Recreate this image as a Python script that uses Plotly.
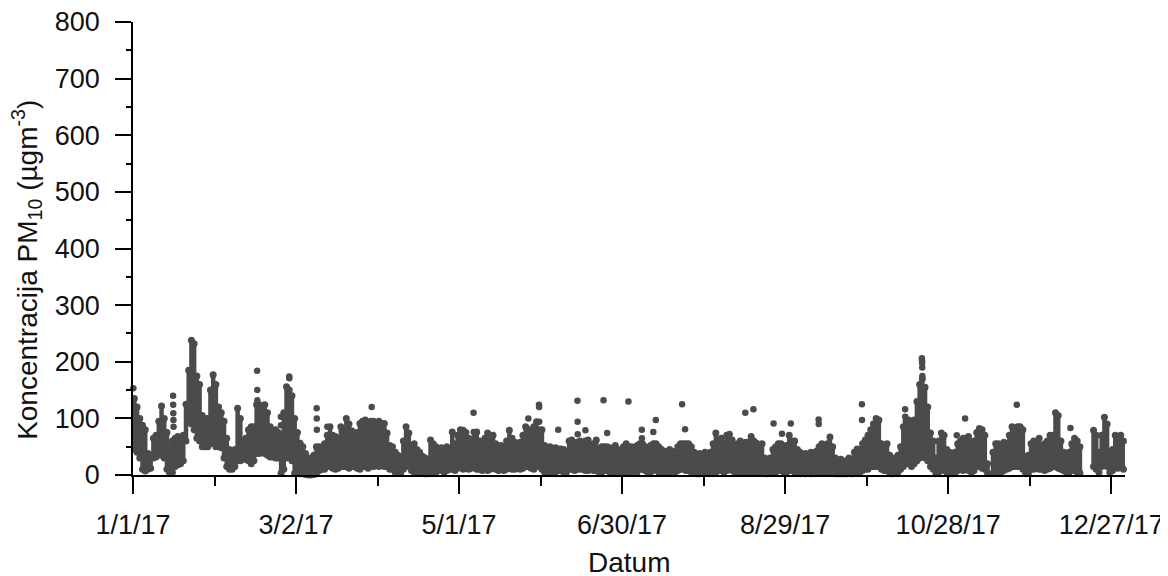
import pandas as pd
import plotly.graph_objects as go

# daily (low, high) PM10 band; None = no data
jan = [(45, 135), (40, 120), (30, 100), (10, 88), (7, 80), (10, 38), (12, 35), (30, 65), (32, 70), (40, 95),
       (35, 122), (30, 100), (10, 75), (3, 50), (5, 60), (15, 65), (18, 68), (20, 60), (25, 70), (60, 125),
       (95, 185), (90, 238), (80, 232), (65, 175), (60, 160), (50, 105), (50, 100), (50, 100), (55, 150),
       (60, 177), (50, 160)]
feb = [(50, 120), (48, 110), (30, 95), (15, 65), (10, 45), (10, 40), (15, 45), (25, 118), (25, 100), (28, 60),
       (28, 65), (25, 80), (20, 85), (25, 85), (38, 124), (38, 124), (40, 120), (38, 124), (35, 110), (32, 85),
       (32, 75), (30, 80), (30, 75), (3, 70), (10, 110), (30, 156), (35, 150), (25, 140)]
mar = [(3, 100), (3, 75), (2, 56), (2, 50), (1, 38), (0, 30), (0, 27), (1, 35), (2, 50), (8, 50),
       (10, 48), (10, 55), (15, 70), (15, 85), (12, 70), (10, 68), (12, 65), (15, 85), (15, 80), (15, 100),
       (12, 90), (15, 78), (15, 70), (12, 75), (10, 91), (15, 95), (15, 97), (12, 90), (15, 95), (15, 95),
       (20, 85)]
apr = [(15, 95), (18, 91), (15, 91), (15, 74), (10, 52), (10, 50), (5, 40), (3, 35), (3, 30), (10, 60),
       (15, 85), (15, 74), (8, 50), (5, 55), (5, 45), (5, 40), (3, 33), (2, 30), (2, 28), (3, 62),
       (5, 55), (5, 50), (8, 45), (10, 48), (5, 40), (8, 50), (10, 45), (10, 76), (8, 55), (12, 70)]
may = [(15, 80), (10, 79), (12, 75), (10, 65), (12, 60), (15, 65), (10, 76), (10, 60), (8, 55), (10, 65),
       (8, 74), (10, 60), (12, 70), (10, 55), (8, 50), (10, 52), (8, 48), (10, 60), (12, 79), (10, 65),
       (10, 58), (12, 55), (10, 58), (12, 70), (15, 85), (15, 80), (12, 80), (10, 85), (15, 94), (15, 80),
       (10, 80)]
jun = [(5, 52), (5, 45), (8, 50), (5, 42), (5, 48), (8, 46), (8, 46), (5, 45), (5, 40), (10, 60),
       (10, 62), (8, 55), (10, 58), (10, 60), (10, 55), (8, 60), (8, 62), (10, 50), (8, 55), (8, 62),
       (5, 45), (5, 50), (8, 50), (8, 50), (5, 48), (5, 45), (5, 52), (8, 45), (5, 42), (5, 50)]
jul = [(5, 55), (5, 50), (5, 50), (8, 45), (5, 52), (10, 55), (10, 55), (8, 50), (5, 48), (5, 52),
       (8, 55), (10, 55), (5, 50), (3, 45), (5, 42), (5, 40), (5, 45), (8, 42), (5, 40), (8, 50),
       (10, 55), (10, 55), (8, 55), (8, 55), (5, 50), (3, 40), (2, 35), (2, 38), (3, 30), (5, 40),
       (5, 35)]
aug = [(3, 40), (5, 55), (5, 74), (8, 60), (8, 65), (5, 55), (8, 70), (10, 72), (8, 62), (5, 50),
       (5, 55), (8, 60), (5, 55), (8, 58), (5, 58), (5, 68), (5, 60), (5, 56), (5, 52), (5, 55),
       (3, 30), (2, 28), (3, 30), (5, 45), (5, 50), (8, 55), (8, 55), (5, 50), (5, 52), (8, 70),
       (8, 60)]
sep = [(5, 60), (3, 45), (2, 40), (3, 35), (2, 38), (3, 30), (2, 40), (3, 35), (5, 42), (5, 50),
       (8, 55), (5, 50), (5, 55), (8, 67), (5, 50), (2, 30), (2, 25), (2, 28), (2, 22), (2, 25),
       (3, 30), (2, 28), (3, 40), (5, 46), (5, 45), (8, 55), (10, 62), (10, 70), (15, 80), (15, 90)]
oct_ = [(15, 100), (15, 97), (10, 55), (8, 52), (8, 55), (3, 35), (2, 25), (3, 30), (5, 35), (10, 50),
        (15, 85), (20, 95), (20, 97), (15, 90), (20, 97), (25, 130), (30, 160), (35, 170), (30, 155), (25, 120),
        (15, 74), (10, 60), (2, 30), (5, 60), (10, 74), (8, 70), (5, 45), (2, 40), (2, 35), (3, 40),
        (8, 55)]
nov = [(10, 60), (8, 65), (10, 65), (8, 68), (5, 55), (8, 60), (15, 75), (15, 82), (12, 80), (10, 70),
       (3, 20), (None, None), (3, 40), (5, 55), (8, 55), (5, 50), (8, 58), (10, 55), (12, 70), (15, 85),
       (15, 80), (15, 85), (15, 85), (10, 80), (2, 30), (3, 35), (10, 55), (10, 60), (12, 58), (10, 65)]
dec = [(10, 50), (8, 55), (10, 60), (12, 70), (15, 70), (15, 110), (12, 105), (10, 60), (8, 40), (5, 35),
       (5, 40), (8, 55), (8, 65), (5, 60), (3, 50), (None, None), (None, None), (None, None), (None, None), (15, 79),
       (10, 70), (5, 40), (15, 70), (20, 102), (15, 90), (5, 40), (8, 45), (15, 70), (12, 65), (15, 70),
       (10, 60)]

# isolated hourly peaks standing out above the daily band
spike_times = ["2017-01-01 03:00", "2017-01-15 18:00", "2017-01-15 19:00", "2017-01-15 20:00",
               "2017-01-15 21:00", "2017-01-15 22:00", "2017-02-15 16:00", "2017-02-15 17:00",
               "2017-02-15 18:00", "2017-02-24 10:00", "2017-02-24 11:00", "2017-02-27 12:00",
               "2017-02-27 13:00", "2017-03-09 14:00", "2017-03-09 15:00", "2017-03-09 16:00",
               "2017-03-13 12:00", "2017-03-29 20:00", "2017-05-06 08:00", "2017-05-06 09:00",
               "2017-05-26 12:00", "2017-05-30 10:00", "2017-05-30 11:00", "2017-05-30 12:00",
               "2017-06-06 12:00", "2017-06-13 14:00", "2017-06-13 15:00", "2017-06-13 16:00",
               "2017-06-16 12:00", "2017-06-23 04:00", "2017-06-24 12:00", "2017-07-02 08:00",
               "2017-07-07 06:00", "2017-07-07 07:00", "2017-07-11 12:00", "2017-07-12 10:00",
               "2017-07-22 02:00", "2017-07-23 04:00", "2017-08-14 08:00", "2017-08-17 08:00",
               "2017-08-24 18:00", "2017-08-27 20:00", "2017-08-31 02:00", "2017-09-10 08:00",
               "2017-09-10 09:00", "2017-09-26 06:00", "2017-09-26 07:00", "2017-10-12 04:00",
               "2017-10-12 05:00", "2017-10-18 08:00", "2017-10-18 09:00", "2017-10-18 10:00",
               "2017-10-18 11:00", "2017-10-18 12:00", "2017-10-31 04:00", "2017-11-03 06:00",
               "2017-11-22 06:00", "2017-12-12 00:00"]
spike_values = [153, 140, 124, 109, 97, 85, 184, 150, 132, 103, 88, 174, 171, 118, 100, 80, 85, 120,
                110, 76, 100, 124, 120, 94, 80, 131, 94, 72, 79, 132, 74, 130, 80, 65, 76, 97, 125, 81,
                110, 116, 91, 73, 91, 98, 90, 125, 97, 116, 103, 206, 202, 198, 190, 175, 70, 100, 124, 83]

tick_dates = ["2017-01-01", "2017-03-02", "2017-05-01", "2017-06-30", "2017-08-29", "2017-10-28", "2017-12-27"]
tick_labels = ["1/1/17", "3/2/17", "5/1/17", "6/30/17", "8/29/17", "10/28/17", "12/27/17"]
minor_dates = ["2017-01-31", "2017-04-01", "2017-05-31", "2017-07-30", "2017-09-28", "2017-11-27"]

days = jan + feb + mar + apr + may + jun + jul + aug + sep + oct_ + nov + dec
dates = pd.date_range("2017-01-01 12:00", periods=len(days), freq="D")
low = [d[0] for d in days]
high = [d[1] for d in days]
span = [None if h is None else h - l for l, h in days]

dot = "#4b4b4b"
font = "Liberation Sans, Arial, sans-serif"

fig = go.Figure()

# daily spread of hourly values
fig.add_trace(go.Scatter(
    x=dates, y=high, mode="markers",
    marker=dict(size=7, color=dot),
    error_y=dict(type="data", symmetric=False, array=[0] * len(days), arrayminus=span,
                 thickness=4.5, width=0, color=dot),
    cliponaxis=False, showlegend=False, hoverinfo="skip",
))
fig.add_trace(go.Scatter(
    x=dates, y=low, mode="markers",
    marker=dict(size=7, color=dot),
    cliponaxis=False, showlegend=False, hoverinfo="skip",
))
fig.add_trace(go.Scatter(
    x=pd.to_datetime(spike_times), y=spike_values, mode="markers",
    marker=dict(size=6.5, color=dot),
    cliponaxis=False, showlegend=False, hoverinfo="skip",
))

# the page body adds an 8px offset, margins are shifted by that amount
fig.update_layout(
    width=1168, height=576,
    margin=dict(l=125, r=51, t=14, b=109),
    paper_bgcolor="white", plot_bgcolor="white",
    font=dict(family=font, size=27, color="#111111"),
    xaxis=dict(
        type="date", range=["2017-01-01", "2018-01-01 02:00"],
        tickvals=tick_dates, ticktext=tick_labels,
        ticks="outside", ticklen=17, tickwidth=1.5, tickcolor="black",
        ticklabelstandoff=8, ticklabeloverflow="allow", automargin=False,
        minor=dict(tickvals=minor_dates, ticks="outside", ticklen=9, tickwidth=1.5, tickcolor="black"),
        showline=True, linecolor="black", linewidth=1.5,
        showgrid=False, zeroline=False,
    ),
    yaxis=dict(
        range=[0, 800], tickvals=list(range(0, 801, 100)),
        ticks="outside", ticklen=16, tickwidth=1.5, tickcolor="black",
        ticklabelstandoff=10, ticklabeloverflow="allow", automargin=False,
        minor=dict(dtick=50, ticks="outside", ticklen=5, tickwidth=1.5, tickcolor="black"),
        showline=True, linecolor="black", linewidth=1.5,
        showgrid=False, zeroline=False,
    ),
    annotations=[
        dict(text="Datum", xref="paper", yref="paper", x=0.5, y=-0.194,
             xanchor="center", yanchor="middle", showarrow=False, font=dict(size=28)),
        dict(text="Koncentracija PM<sub>10</sub> (µgm<sup>-3</sup>)", xref="paper", yref="paper",
             x=-0.107, y=0.4525, xanchor="center", yanchor="middle", textangle=-90,
             showarrow=False, font=dict(size=28)),
    ],
)

fig.write_html("out.html")
